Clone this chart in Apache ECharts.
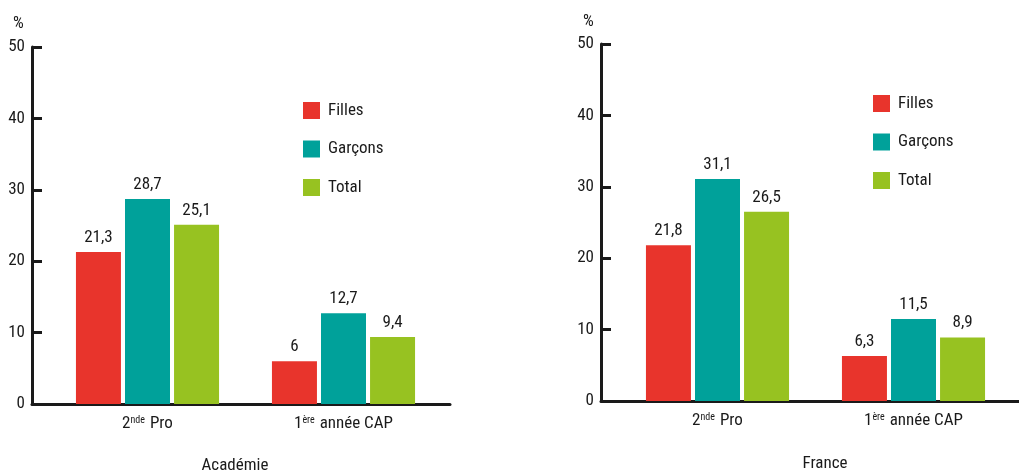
<!DOCTYPE html>
<html>
<head>
<meta charset="utf-8">
<script src="https://cdn.jsdelivr.net/npm/echarts@6/dist/echarts.min.js"></script>
<style>
  html, body { margin: 0; padding: 0; background: #fff; }
  #chart { width: 1019px; height: 473px; }
</style>
</head>
<body>
<div id="chart"></div>
<script>
// Categories (ordinal suffix written as superscript)
const categories = ['2nde Pro', '1ère année CAP'];
const seriesNames = ['Filles', 'Garçons', 'Total'];

// Académie
const academieFilles = [21.3, 6];
const academieGarcons = [28.7, 12.7];
const academieTotal = [25.1, 9.4];

// France
const franceFilles = [21.8, 6.3];
const franceGarcons = [31.1, 11.5];
const franceTotal = [26.5, 8.9];

const panelTitles = ['Académie', 'France'];
const yTicks = [0, 10, 20, 30, 40, 50];

const colors = ['#E8342C', '#00A19A', '#97C221'];
const FONT = '"Liberation Sans Narrow", "Roboto Condensed", "DejaVu Sans Condensed", "Liberation Sans", sans-serif';
const INK = '#1a1a1a';
const FS = 17;

const fmtNum = v => String(v).replace('.', ',');
const fmtCat = s => s.replace(/^(\d)(\S+)(.*)$/, '$1{s|$2}$3');

// Panel geometry: axis frame grid + inner grid that carries the bars
const panels = [
  { frameLeft: 32, barsLeft: 49.5, top: 47, legendLeft: 303, legendTop: 102, titleX: 235, titleY: 457, pctX: 13, pctY: 15 },
  { frameLeft: 601, barsLeft: 619.5, top: 44, legendLeft: 873, legendTop: 95, titleX: 825, titleY: 455, pctX: 583, pctY: 13 }
];
const plotH = 357;

const grid = [], xAxis = [], yAxis = [], series = [], legend = [], title = [];
const data = [
  [academieFilles, academieGarcons, academieTotal],
  [franceFilles, franceGarcons, franceTotal]
];

panels.forEach((p, i) => {
  const gFrame = grid.length;
  grid.push({ left: p.frameLeft, top: p.top, width: 418, height: plotH, containLabel: false });
  grid.push({ left: p.barsLeft, top: p.top, width: 392, height: plotH, containLabel: false });

  // frame axes
  xAxis.push({
    gridIndex: gFrame, type: 'value', min: 0, max: 1,
    axisLine: { show: true, onZero: true, lineStyle: { color: INK, width: 3 } },
    axisTick: { show: false }, axisLabel: { show: false }, splitLine: { show: false }
  });
  yAxis.push({
    gridIndex: gFrame, type: 'value', min: yTicks[0], max: yTicks[yTicks.length - 1], interval: 10,
    axisLine: { show: true, lineStyle: { color: INK, width: 3 } },
    axisTick: { show: true, inside: true, length: 10, lineStyle: { color: INK, width: 3 } },
    axisLabel: { color: INK, fontFamily: FONT, fontSize: FS, margin: 7 },
    splitLine: { show: false }
  });

  // bar axes
  xAxis.push({
    gridIndex: gFrame + 1, type: 'category', data: categories,
    axisLine: { show: false }, axisTick: { show: false },
    axisLabel: {
      margin: 11, color: INK, fontFamily: FONT, fontSize: FS,
      formatter: v => fmtCat(v),
      rich: { s: { fontSize: 10, fontFamily: FONT, color: INK, verticalAlign: 'top', padding: [0, 1, 7, 0] } }
    }
  });
  yAxis.push({ gridIndex: gFrame + 1, type: 'value', min: 0, max: 50, show: false });

  seriesNames.forEach((name, k) => {
    series.push({
      name, type: 'bar', xAxisIndex: gFrame + 1, yAxisIndex: gFrame + 1,
      data: data[i][k], barWidth: 45, barGap: '9%',
      itemStyle: { color: colors[k] },
      label: {
        show: true, position: 'top', distance: 6, color: INK,
        fontFamily: FONT, fontSize: FS, formatter: q => fmtNum(q.value)
      }
    });
  });

  legend.push({
    orient: 'vertical', left: p.legendLeft, top: p.legendTop, padding: 0,
    itemWidth: 17, itemHeight: 17, itemGap: 21.5, icon: 'rect',
    textStyle: { color: INK, fontFamily: FONT, fontSize: FS, padding: [0, 0, 0, 3] },
    data: seriesNames
  });

  title.push({
    text: panelTitles[i], left: p.titleX, top: p.titleY, textAlign: 'center', padding: 0,
    textStyle: { color: INK, fontFamily: FONT, fontSize: FS, fontWeight: 'normal' }
  });
  title.push({
    text: '%', left: p.pctX, top: p.pctY, padding: 0,
    textStyle: { color: INK, fontFamily: FONT, fontSize: FS, fontWeight: 'normal' }
  });
});

const chart = echarts.init(document.getElementById('chart'), null, { renderer: 'canvas' });
chart.setOption({
  animation: false,
  backgroundColor: '#fff',
  color: colors,
  title, legend, grid, xAxis, yAxis, series
});
</script>
</body>
</html>
